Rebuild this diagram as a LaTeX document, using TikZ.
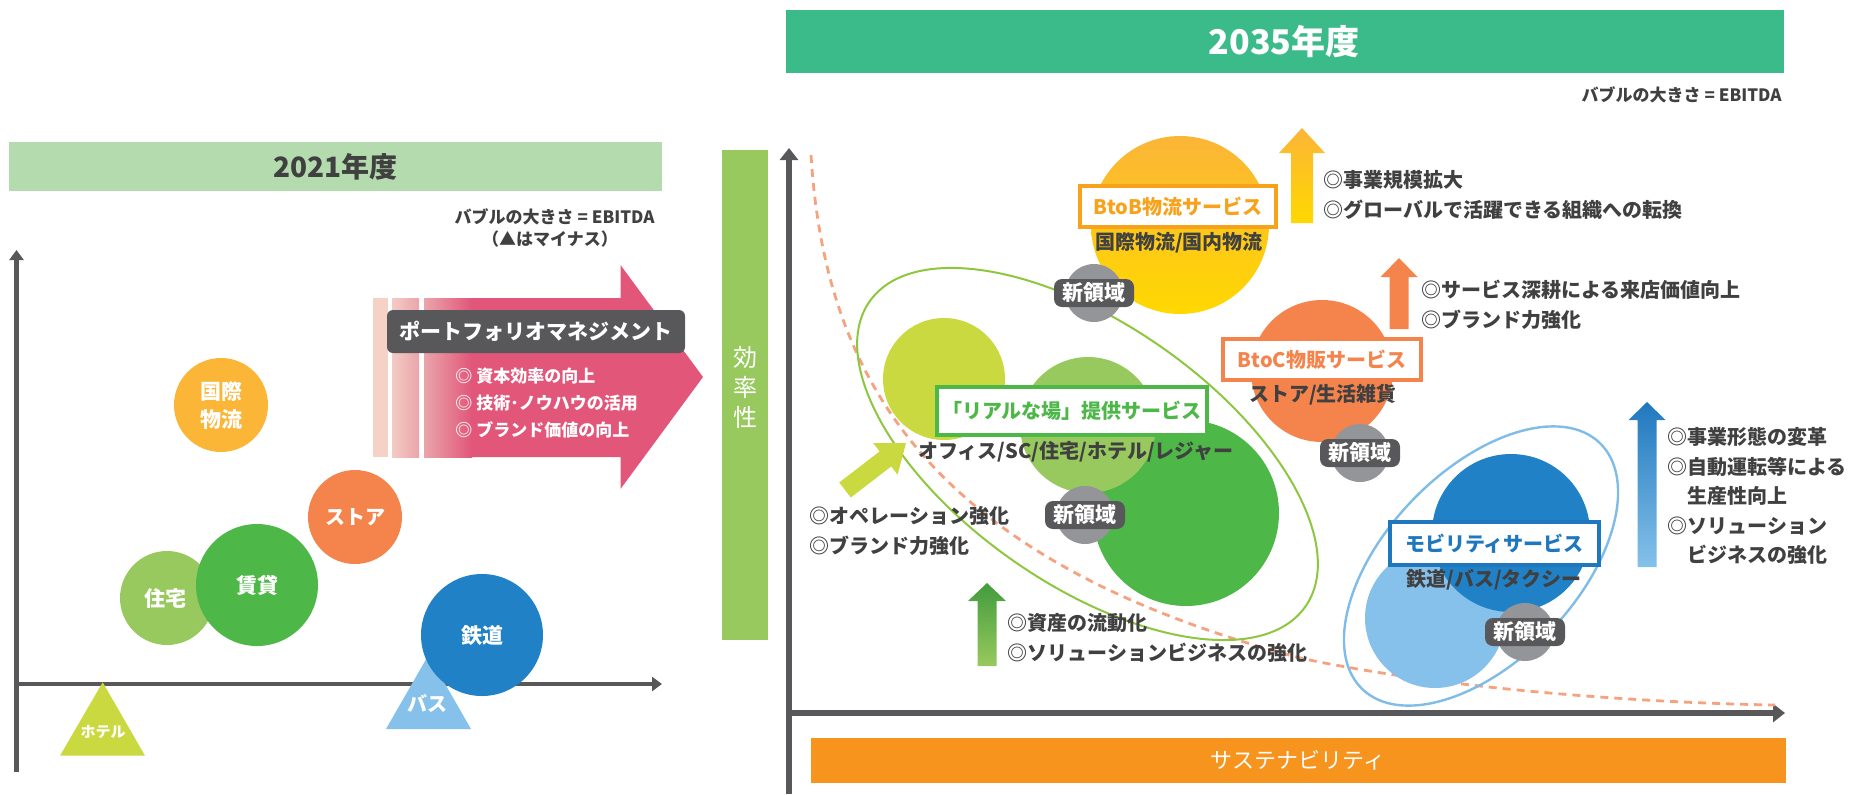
\documentclass[tikz,border=0pt]{standalone}
\usepackage{fontspec}
\setmainfont{Noto Sans CJK JP}
\usetikzlibrary{arrows.meta}
\definecolor{txtc}{HTML}{404040}
\definecolor{axisc}{HTML}{58585A}
\definecolor{hdrL}{HTML}{B3DBAE}
\definecolor{hdrR}{HTML}{3BBB8A}
\definecolor{effg}{HTML}{97C95F}
\definecolor{sust}{HTML}{F7941E}
\definecolor{pinkc}{HTML}{E15679}
\definecolor{stripeA}{HTML}{F6D1C6}
\definecolor{stripeB}{HTML}{F3CBC4}
\definecolor{stripeC}{HTML}{EAA5AB}
\definecolor{orgc}{HTML}{FBB537}
\definecolor{yelc}{HTML}{FFD800}
\definecolor{storec}{HTML}{F4844C}
\definecolor{lgreen}{HTML}{98C95E}
\definecolor{dgreen}{HTML}{4DB748}
\definecolor{ygreen}{HTML}{C9D93F}
\definecolor{dblue}{HTML}{2181C6}
\definecolor{lblue}{HTML}{85C1EA}
\definecolor{badgec}{HTML}{939598}
\definecolor{dashc}{HTML}{F5A37F}
\definecolor{ellg}{HTML}{8DC63F}
\definecolor{ellb}{HTML}{7FBCE8}
\definecolor{btobc}{HTML}{F8A21B}
\definecolor{mobc}{HTML}{1F78BE}
\newcommand\fsz[1]{\fontsize{#1}{#1}\selectfont}
\newcommand\newarea[2]{\fill[badgec] (#2) circle (29); \node[areatag] (#1) at (#2) {新領域};}
\tikzset{
  every node/.style={inner sep=0pt},
  axisL/.style={draw=axisc, line width=2.2pt, -{Triangle[length=5pt,width=7pt]}},
  axisR/.style={draw=axisc, line width=3.2pt, -{Triangle[length=6pt,width=9pt]}},
  small/.style={font=\bfseries\fsz{8.5}, text=txtc},
  bub/.style={font=\bfseries\fontsize{10.5}{14}\selectfont, text=white, align=center},
  pmitem/.style={font=\bfseries\fsz{8.5}, text=white, anchor=west},
  note/.style={font=\bfseries\fontsize{10}{15}\selectfont, text=txtc, anchor=west, align=left},
  sub/.style={font=\bfseries\fsz{10}, text=txtc},
  svc/.style={draw=#1, text=#1, fill=white, line width=1.6pt, font=\bfseries\fsz{10}},
  areatag/.style={fill=axisc, rounded corners=4pt, minimum width=40pt, minimum height=14pt, text=white, font=\bfseries\fsz{10.5}}
}
\begin{document}
\begin{tikzpicture}[x=0.5pt,y=-0.5pt]
\useasboundingbox (0,0) rectangle (1853,794);

% 2021
\fill[hdrL] (9,142) rectangle (662,191);
\node[font=\bfseries\fsz{14}, text=txtc] (y2021) at (335.5,167) {2021年度};
\node[small, anchor=east] (bubL) at (655,217) {バブルの大きさ = EBITDA};
\node[small] (minus) at (550,239) {（▲はマイナス）};
\coordinate (oL) at (16.5,684);
\coordinate (yL) at (16.5,250);
\coordinate (bL) at (16.5,772);
\coordinate (xL) at (662,684);
\draw[axisL] (bL) -- (yL);
\draw[axisL] (oL) -- (xL);

\fill[stripeA] (373,298) rectangle (388,457);
\shade[left color=stripeB, right color=stripeC] (392,298) rectangle (419,457);
\shade[left color=stripeC, right color=pinkc] (424,298) rectangle (472,457);
\fill[pinkc] (471,298) -- (620.5,298) -- (620.5,265) -- (703,377) -- (620.5,489) -- (620.5,457) -- (471,457) -- cycle;
\node[fill=axisc, rounded corners=3pt, minimum width=149pt, minimum height=21.5pt,
  text=white, font=\bfseries\fsz{10.5}] (pm) at (536,331.5) {ポートフォリオマネジメント};
\node[pmitem] (pm1) at (455,376) {◎ 資本効率の向上};
\node[pmitem] (pm2) at (455,403) {◎ 技術･ノウハウの活用};
\node[pmitem] (pm3) at (455,430) {◎ ブランド価値の向上};

\fill[orgc] (221,405) circle (47);
\node[bub] (kokusai) at (221,406) {国際\\物流};
\fill[storec] (355,517) circle (47);
\node[bub, font=\bfseries\fsz{10}] (store) at (355,517) {ストア};
\fill[lgreen] (167,598) circle (47);
\node[bub] (jutaku) at (165,598) {住宅};
\fill[dgreen] (257,585) circle (61);
\node[bub] (chintai) at (257,585) {賃貸};
\fill[ygreen] (102.7,682.3) -- (145,755.7) -- (60,755.7) -- cycle;
\node[bub, font=\bfseries\fsz{7.5}] (hotel) at (103,732) {ホテル};
\fill[lblue] (428.5,655) -- (471,729) -- (386,729) -- cycle;
\node[bub, font=\bfseries\fsz{10}] (bus) at (427,703) {バス};
\fill[dblue] (482,635) circle (61);
\node[bub] (tetsudo) at (482,636) {鉄道};

% middle
\fill[effg] (722,150) rectangle (768,640);
\node[font=\fontsize{12}{15}\selectfont, text=white, align=center] (eff) at (745,387) {効\\率\\性};

% 2035
\fill[hdrR] (786,10) rectangle (1784,73);
\node[font=\bfseries\fsz{17}, text=white] (y2035) at (1284,41.5) {2035年度};
\node[small, anchor=east] (bubR) at (1782,95) {バブルの大きさ = EBITDA};
\fill[sust] (811,738) rectangle (1786,783);
\node[font=\fsz{11}, text=white] (sustain) at (1298,760.5) {サステナビリティ};
\coordinate (oR) at (789,713);
\coordinate (yR) at (789,148);
\coordinate (bR) at (789,794);
\coordinate (xR) at (1785,713);
\draw[axisR] (bR) -- (yR);
\draw[axisR] (oR) -- (xR);

\draw[dashc, line width=1.4pt, dash pattern=on 4pt off 3pt] (811,155) .. controls (825,380) and (930,560) .. (1300,658) .. controls (1450,690) and (1650,703) .. (1775,705);

\shade[top color=orgc, bottom color=yelc] (1180,225) circle (89);
\fill[storec] (1322,371) circle (71);
\fill[ygreen] (944,379) circle (61);
\fill[dgreen] (1186,513) circle (93);
\fill[lgreen] (1088,425) circle (68);
\fill[lblue] (1435,618) circle (70);
\fill[dblue] (1511,533) circle (79);
\draw[ellg, line width=1pt, rotate around={-35:(1087.5,454)}] (1087.5,454) ellipse [x radius=266, y radius=130];
\draw[ellb, line width=1.2pt, rotate around={46:(1481,566)}] (1481,566) ellipse [x radius=171, y radius=95];

\node[svc=btobc, minimum width=98pt, minimum height=20.5pt] (btob) at (1178,206.5) {BtoB物流サービス};
\node[sub] (btobsub) at (1179,243) {国際物流/国内物流};
\node[svc=storec, minimum width=99pt, minimum height=20.5pt] (btoc) at (1322,359.5) {BtoC物販サービス};
\node[sub] (btocsub) at (1323,395) {ストア/生活雑貨};
\node[svc=dgreen, minimum width=135pt, minimum height=24pt] (real) at (1072,411) {「リアルな場」提供サービス};
\node[sub] (realsub) at (1076,452) {オフィス/SC/住宅/ホテル/レジャー};
\node[svc=mobc, minimum width=104.5pt, minimum height=21.5pt] (mob) at (1494.5,543.5) {モビリティサービス};
\node[sub] (mobsub) at (1494,580) {鉄道/バス/タクシー};

\newarea{na1}{1094,293}
\newarea{na2}{1085,515}
\newarea{na3}{1360,453}
\newarea{na4}{1525,632}

\shade[top color=orgc, bottom color=yelc] (1302,128) -- (1325,153) -- (1313,153) -- (1313,223) -- (1291,223) -- (1291,153) -- (1279,153) -- cycle;
\fill[storec] (1399,258) -- (1417.5,277) -- (1408.5,277) -- (1408.5,329) -- (1389.5,329) -- (1389.5,277) -- (1380.5,277) -- cycle;
\shade[top color=mobc, bottom color=lblue] (1647,402) -- (1665.5,420) -- (1656.5,420) -- (1656.5,567) -- (1637.5,567) -- (1637.5,420) -- (1628.5,420) -- cycle;
\shade[top color=dgreen!85!black, bottom color=lgreen] (987,583) -- (1006,601) -- (996.5,601) -- (996.5,666) -- (977.5,666) -- (977.5,601) -- (968,601) -- cycle;
\fill[ygreen] (906,443) -- (897.6,474.7) -- (891.2,466.4) -- (850.8,497.5) -- (839.2,482.5) -- (879.6,451.4) -- (873.2,443.1) -- cycle;

\node[note] (btobnote) at (1323,195) {◎事業規模拡大\\◎グローバルで活躍できる組織への転換};
\node[note] (btocnote) at (1421,304.5) {◎サービス深耕による来店価値向上\\◎ブランド力強化};
\node[note, font=\bfseries\fontsize{10}{14.75}\selectfont] (mobnote) at (1667,496) {◎事業形態の変革\\◎自動運転等による\\\hspace{1em}生産性向上\\◎ソリューション\\\hspace{1em}ビジネスの強化};
\node[note] (assetnote) at (1007,638) {◎資産の流動化\\◎ソリューションビジネスの強化};
\node[note] (opnote) at (809,531) {◎オペレーション強化\\◎ブランド力強化};
\end{tikzpicture}
\end{document}
